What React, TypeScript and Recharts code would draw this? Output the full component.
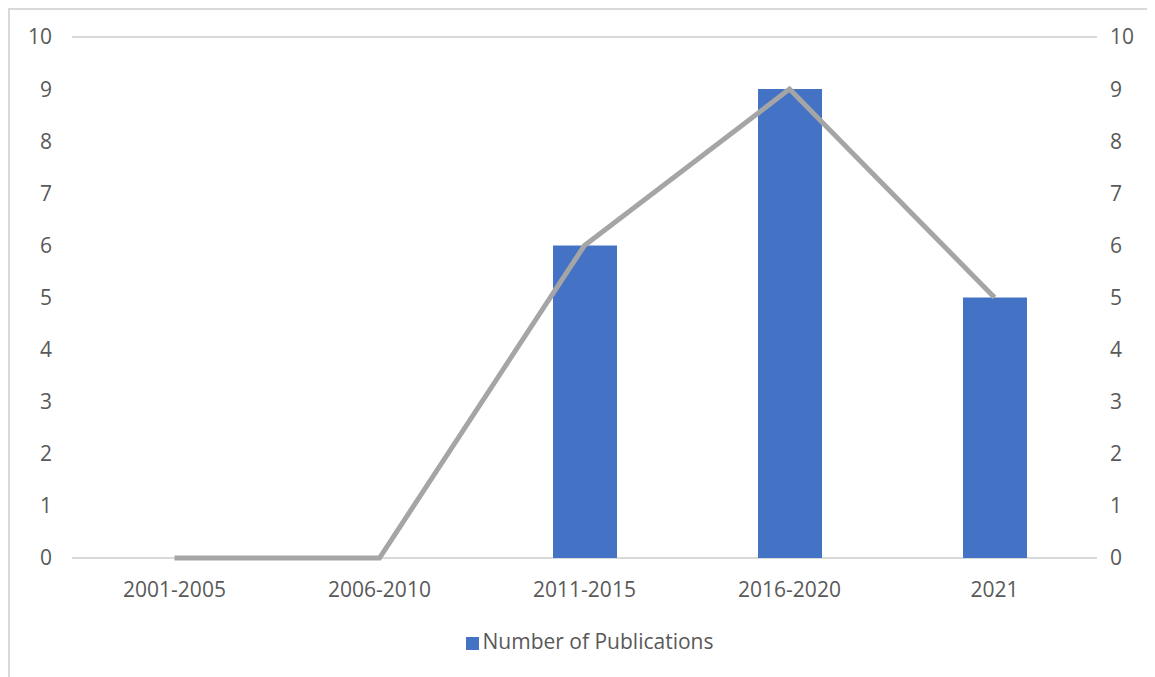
import React from 'react';
import {
  ComposedChart,
  Bar,
  Line,
  XAxis,
  YAxis,
  CartesianGrid,
  Legend,
} from 'recharts';

// Values
const periods = ['2001-2005', '2006-2010', '2011-2015', '2016-2020', '2021'];
const publications = [0, 0, 6, 9, 5];
const yTicks = [0, 1, 2, 3, 4, 5, 6, 7, 8, 9, 10];

const data = periods.map((period, i) => ({
  period,
  publications: publications[i],
  trend: publications[i],
}));

const TEXT = '#595959';
const FONT = '"Open Sans", "Noto Sans", sans-serif';

export default function App() {
  const tickStyle = { fill: TEXT, fontSize: 21, fontFamily: FONT };

  return (
    <div
      style={{
        width: 1160,
        height: 680,
        border: '2px solid #D9D9D9',
        background: '#fff',
        fontFamily: FONT,
      }}
    >
      <ComposedChart
        width={1147}
        height={667}
        data={data}
        margin={{ top: 27, right: 0, left: 0, bottom: 22 }}
      >
        <CartesianGrid vertical={false} stroke="#D9D9D9" strokeWidth={2} />
        <XAxis
          dataKey="period"
          axisLine={false}
          tickLine={false}
          tick={tickStyle}
          tickMargin={18}
          height={69}
          interval={0}
        />
        <YAxis
          yAxisId="left"
          orientation="left"
          domain={[0, 10]}
          ticks={yTicks}
          axisLine={false}
          tickLine={false}
          tick={tickStyle}
          tickMargin={14}
          width={62}
        />
        <YAxis
          yAxisId="right"
          orientation="right"
          domain={[0, 10]}
          ticks={yTicks}
          axisLine={false}
          tickLine={false}
          tick={{ ...tickStyle, textAnchor: 'start' }}
          tickMargin={7}
          width={60}
        />
        <Bar
          yAxisId="left"
          dataKey="publications"
          name="Number of Publications"
          fill="#4472C4"
          barSize={64}
          legendType="square"
          isAnimationActive={false}
        />
        <Line
          yAxisId="right"
          type="linear"
          dataKey="trend"
          stroke="#A5A5A5"
          strokeWidth={5}
          dot={false}
          activeDot={false}
          legendType="none"
          isAnimationActive={false}
        />
        <Legend
          verticalAlign="bottom"
          iconSize={13}
          wrapperStyle={{ fontSize: 21, fontFamily: FONT, color: TEXT, paddingLeft: 11 }}
          formatter={(value) => <span style={{ color: TEXT }}>{value}</span>}
        />
      </ComposedChart>
    </div>
  );
}
